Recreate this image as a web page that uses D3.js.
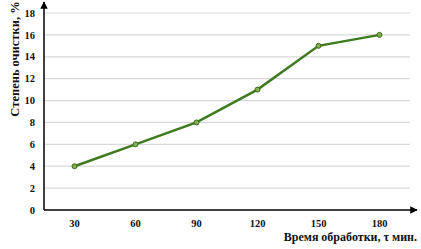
<!DOCTYPE html>
<html>
<head>
<meta charset="utf-8">
<script src="https://cdn.jsdelivr.net/npm/d3@7"></script>
<style>
  body { margin: 0; background: #fff; }
  text { font-family: "Liberation Serif", "Times New Roman", serif; font-weight: bold; fill: #111; }
</style>
</head>
<body>
<div id="chart"></div>
<script>
// Data
const times = [30, 60, 90, 120, 150, 180];
const purification = [4, 6, 8, 11, 15, 16];
const yTicks = [0, 2, 4, 6, 8, 10, 12, 14, 16, 18];

// Plot box
const W = 421, H = 249;
const margins = { top: 13, right: 11, bottom: 39, left: 44 };
const width = W - margins.left - margins.right;
const height = H - margins.top - margins.bottom;

const svg = d3.select("#chart").append("svg")
    .attr("width", W)
    .attr("height", H);

const g = svg.append("g")
    .attr("transform", `translate(${margins.left}, ${margins.top})`);

const xScale = d3.scaleBand().domain(times).range([0, width]);
const yScale = d3.scaleLinear().domain([0, 18]).range([height, 0]);

// Gridlines
g.append("g").selectAll("line")
    .data(yTicks.filter(t => t > 0))
    .join("line")
        .attr("x1", 0).attr("x2", width)
        .attr("y1", d => yScale(d)).attr("y2", d => yScale(d))
        .attr("stroke", "#d9d9d9")
        .attr("stroke-width", 1.2);

// Arrow marker
svg.append("defs").append("marker")
    .attr("id", "arrow")
    .attr("viewBox", "0 0 10 10")
    .attr("refX", 9).attr("refY", 5)
    .attr("markerWidth", 5).attr("markerHeight", 5)
    .attr("orient", "auto")
  .append("path")
    .attr("d", "M0,0 L10,5 L0,10 z")
    .attr("fill", "#000");

// Axes lines with arrows
g.append("line")
    .attr("x1", 0).attr("x2", 0)
    .attr("y1", height).attr("y2", -11)
    .attr("stroke", "#000").attr("stroke-width", 1.5)
    .attr("marker-end", "url(#arrow)");
g.append("line")
    .attr("x1", 0).attr("x2", width + 7)
    .attr("y1", height).attr("y2", height)
    .attr("stroke", "#000").attr("stroke-width", 1.5)
    .attr("marker-end", "url(#arrow)");

// Y tick labels
g.append("g").selectAll("text")
    .data(yTicks)
    .join("text")
        .attr("x", -9)
        .attr("y", d => yScale(d))
        .attr("dy", "0.35em")
        .attr("text-anchor", "end")
        .attr("font-size", 10.5)
        .text(d => d);

// X tick labels
g.append("g").selectAll("text")
    .data(times)
    .join("text")
        .attr("x", d => xScale(d) + xScale.bandwidth() / 2)
        .attr("y", height + 17)
        .attr("text-anchor", "middle")
        .attr("font-size", 10.5)
        .text(d => d);

// Axis titles
svg.append("text")
    .attr("transform", "translate(19, 59) rotate(-90)")
    .attr("text-anchor", "middle")
    .attr("font-size", 12.5)
    .text("Степень очистки, %");

svg.append("text")
    .attr("x", 417)
    .attr("y", 241)
    .attr("text-anchor", "end")
    .attr("font-size", 12)
    .text("Время обработки, τ мин.");

// Line and markers
const pts = times.map((t, i) => [t, purification[i]]);
const line = d3.line()
    .x(d => xScale(d[0]) + xScale.bandwidth() / 2)
    .y(d => yScale(d[1]));

g.append("path")
    .datum(pts)
    .attr("d", line)
    .attr("fill", "none")
    .attr("stroke", "#3f7a1e")
    .attr("stroke-width", 2.5);

g.append("g").selectAll("circle")
    .data(pts)
    .join("circle")
        .attr("cx", d => xScale(d[0]) + xScale.bandwidth() / 2)
        .attr("cy", d => yScale(d[1]))
        .attr("r", 2.5)
        .attr("fill", "#7fb04f")
        .attr("stroke", "#3f6a1e")
        .attr("stroke-width", 1);
</script>
</body>
</html>
